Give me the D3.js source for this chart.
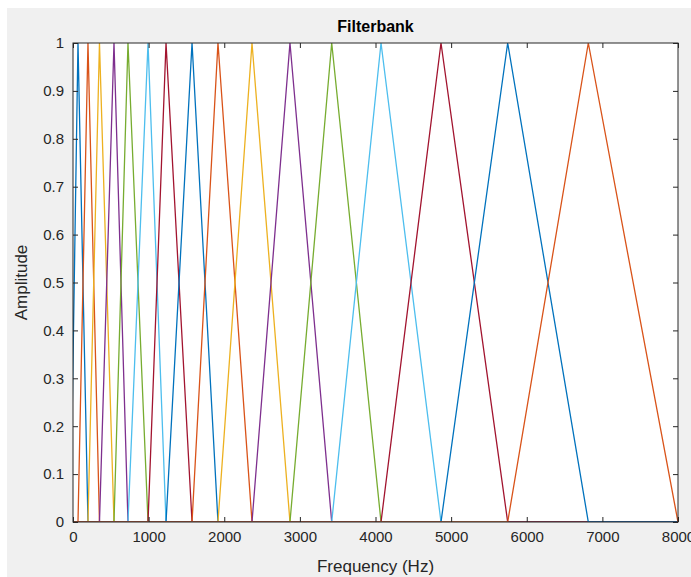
<!DOCTYPE html>
<html>
<head>
<meta charset="utf-8">
<script src="https://cdn.jsdelivr.net/npm/d3@7"></script>
<style>
  body { margin: 0; background: #fff; }
  text { font-family: "Liberation Sans", Arial, sans-serif; }
</style>
</head>
<body>
<script>
// band edges (Hz): each filter i rises from edge[i] to edge[i+1], falls to edge[i+2]
let bandEdges = [-33, 66, 198, 350, 542, 727, 992, 1230, 1574, 1917, 2367,
                 2869, 3421, 4073, 4866, 5748, 6814, 8000];
// MATLAB default colour order, repeated
let colors = ["#0072BD", "#D95319", "#EDB120", "#7E2F8E", "#77AC30", "#4DBEEE", "#A2142F"];
let xTicks = [0, 1000, 2000, 3000, 4000, 5000, 6000, 7000, 8000];
let yTicks = [0, 0.1, 0.2, 0.3, 0.4, 0.5, 0.6, 0.7, 0.8, 0.9, 1];

let margin = {top: 43, right: 13, bottom: 55, left: 73},
    width = 691 - margin.left - margin.right,
    height = 577 - margin.top - margin.bottom;

let x = d3.scaleLinear().domain([0, 8000]).range([0, width]);
let y = d3.scaleLinear().domain([0, 1]).range([height, 0]);

let root = d3.select("body").append("svg")
    .attr("width", 691)
    .attr("height", 577);

// figure background
root.append("rect")
    .attr("x", 7).attr("y", 8)
    .attr("width", 684).attr("height", 569)
    .attr("fill", "#f0f0f0");

let svg = root.append("g")
    .attr("transform", "translate(" + margin.left + "," + margin.top + ")");

svg.append("rect")
    .attr("width", width).attr("height", height)
    .attr("fill", "#fff");

svg.append("clipPath").attr("id", "clip")
  .append("rect").attr("width", width).attr("height", height + 1).attr("y", -1);

// build filters: zero outside, triangle between edges
let filters = d3.range(bandEdges.length - 2).map(function(i) {
  let pts = [];
  if (bandEdges[i] > 0) pts.push([0, 0]);
  pts.push([bandEdges[i], 0]);
  pts.push([bandEdges[i + 1], 1]);
  pts.push([bandEdges[i + 2], 0]);
  if (bandEdges[i + 2] < 8000) pts.push([8000, 0]);
  return pts;
});

let line = d3.line()
    .x(function(d) { return x(d[0]); })
    .y(function(d) { return y(d[1]); });

svg.append("g")
    .attr("clip-path", "url(#clip)")
  .selectAll("path")
  .data(filters)
  .enter().append("path")
    .attr("d", line)
    .attr("fill", "none")
    .attr("stroke", function(d, i) { return colors[i % colors.length]; })
    .attr("stroke-width", 1.3);

// axes, MATLAB-style: ticks inside, box on
function styleAxis(g) {
  g.select(".domain").remove();
  g.selectAll("line").attr("stroke", "#262626");
  g.selectAll("text").attr("fill", "#262626").attr("font-size", "15px");
}

svg.append("g")
    .attr("transform", "translate(0," + height + ")")
    .call(d3.axisBottom(x).tickValues(xTicks).tickFormat(d3.format("d"))
      .tickSizeInner(-5).tickSizeOuter(0).tickPadding(9))
    .call(styleAxis);

svg.append("g")
    .call(d3.axisTop(x).tickValues(xTicks).tickFormat("")
      .tickSizeInner(-5).tickSizeOuter(0))
    .call(styleAxis);

svg.append("g")
    .call(d3.axisLeft(y).tickValues(yTicks).tickFormat(function(d) { return d3.format("")(+d.toFixed(1)); })
      .tickSizeInner(-5).tickSizeOuter(0).tickPadding(9))
    .call(styleAxis);

svg.append("g")
    .attr("transform", "translate(" + width + ",0)")
    .call(d3.axisRight(y).tickValues(yTicks).tickFormat("")
      .tickSizeInner(-5).tickSizeOuter(0))
    .call(styleAxis);

svg.append("rect")
    .attr("width", width).attr("height", height)
    .attr("fill", "none")
    .attr("stroke", "#262626")
    .attr("stroke-width", 1);

// title and labels
svg.append("text")
    .attr("x", width / 2).attr("y", -11)
    .attr("text-anchor", "middle")
    .attr("font-size", "16px")
    .attr("font-weight", "bold")
    .attr("fill", "#000")
    .text("Filterbank");

svg.append("text")
    .attr("x", width / 2).attr("y", height + 50)
    .attr("text-anchor", "middle")
    .attr("font-size", "17px")
    .attr("fill", "#262626")
    .text("Frequency (Hz)");

svg.append("text")
    .attr("transform", "translate(-46," + (height / 2) + ") rotate(-90)")
    .attr("text-anchor", "middle")
    .attr("font-size", "17px")
    .attr("fill", "#262626")
    .text("Amplitude");
</script>
</body>
</html>
